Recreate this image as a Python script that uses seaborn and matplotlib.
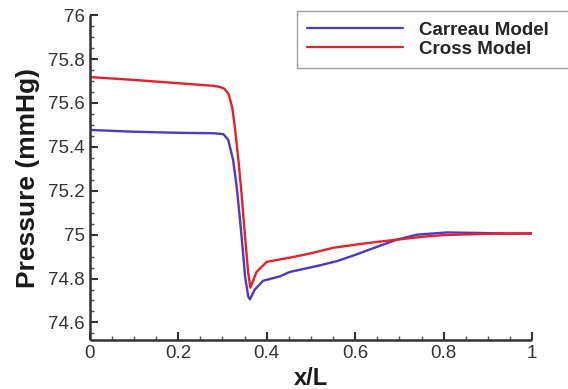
import pandas as pd
import matplotlib
matplotlib.use("Agg")
import matplotlib.pyplot as plt
import seaborn as sns
from matplotlib.ticker import MultipleLocator

# values
x_carreau = [0.0, 0.1, 0.2, 0.28, 0.302, 0.313, 0.324, 0.332, 0.339, 0.345, 0.351, 0.358, 0.362,
             0.373, 0.392, 0.43, 0.452, 0.475, 0.52, 0.56, 0.603, 0.65, 0.694, 0.74, 0.807, 0.87,
             0.95, 1.0]
p_carreau = [75.477, 75.469, 75.464, 75.462, 75.458, 75.432, 75.34, 75.22, 75.08, 74.95, 74.81, 74.72,
             74.705, 74.75, 74.79, 74.81, 74.83, 74.84, 74.86, 74.88, 74.91, 74.945, 74.977, 75.0,
             75.01, 75.008, 75.005, 75.005]

x_cross = [0.0, 0.1, 0.2, 0.28, 0.294, 0.304, 0.314, 0.322, 0.328, 0.336, 0.343, 0.351, 0.358, 0.363,
           0.377, 0.4, 0.452, 0.5, 0.55, 0.603, 0.65, 0.694, 0.75, 0.8, 0.9, 1.0]
p_cross = [75.718, 75.705, 75.69, 75.678, 75.673, 75.665, 75.64, 75.58, 75.49, 75.34, 75.19, 74.99,
           74.83, 74.758, 74.83, 74.876, 74.895, 74.915, 74.94, 74.955, 74.967, 74.977, 74.99, 74.998,
           75.004, 75.006]

labels = ["Carreau Model", "Cross Model"]
colors = ["#5038c8", "#e8202a"]

df = pd.concat([
    pd.DataFrame({"x": x_carreau, "p": p_carreau, "model": labels[0]}),
    pd.DataFrame({"x": x_cross, "p": p_cross, "model": labels[1]}),
])

sns.set_style("ticks")
plt.rcParams['font.family'] = ['Liberation Sans', 'DejaVu Sans']

fig = plt.figure(figsize=(5.68, 3.89), dpi=100)
ax = fig.add_axes([0.158, 0.126, 0.779, 0.835])

sns.lineplot(data=df, x="x", y="p", hue="model", palette=colors, linewidth=1.7,
             sort=False, estimator=None, ax=ax)

ax.set_xlim(0, 1)
ax.set_ylim(74.52, 76)
ax.xaxis.set_minor_locator(MultipleLocator(0.05))
ax.yaxis.set_minor_locator(MultipleLocator(0.05))
ax.set_xticks([0, 0.2, 0.4, 0.6, 0.8, 1.0])
ax.set_xticklabels(["0", "0.2", "0.4", "0.6", "0.8", "1"])
ax.set_yticks([74.6, 74.8, 75, 75.2, 75.4, 75.6, 75.8, 76])
ax.set_yticklabels(["74.6", "74.8", "75", "75.2", "75.4", "75.6", "75.8", "76"])
ax.tick_params(which="major", direction="in", length=6, width=1.5, labelsize=13.5,
               colors="#333333", labelcolor="#333333")
ax.tick_params(which="minor", direction="in", length=3, width=1, colors="#555555")
for side in ["top", "right"]:
    ax.spines[side].set_visible(False)
for side in ["left", "bottom"]:
    ax.spines[side].set_linewidth(1.8)
    ax.spines[side].set_color("#333333")
    ax.spines[side].set_capstyle("butt")

ax.set_xlabel("x/L", fontsize=17, fontweight="bold", color="#1a1a1a", labelpad=4)
ax.set_ylabel("Pressure (mmHg)", fontsize=19, fontweight="bold", color="#1a1a1a", labelpad=6)

leg = ax.legend(loc="upper left", bbox_to_anchor=(0.468, 0.8, 0.63, 0.212), mode="expand",
                borderaxespad=0, frameon=True, fancybox=False,
                handlelength=5.1, handletextpad=0.85, borderpad=0.55, labelspacing=0.1,
                prop={"weight": "bold", "size": 13.5})
leg.get_frame().set_edgecolor("#888888")
leg.get_frame().set_linewidth(1.0)
for line in leg.get_lines():
    line.set_linewidth(1.6)

plt.savefig("out.png", dpi=100)
